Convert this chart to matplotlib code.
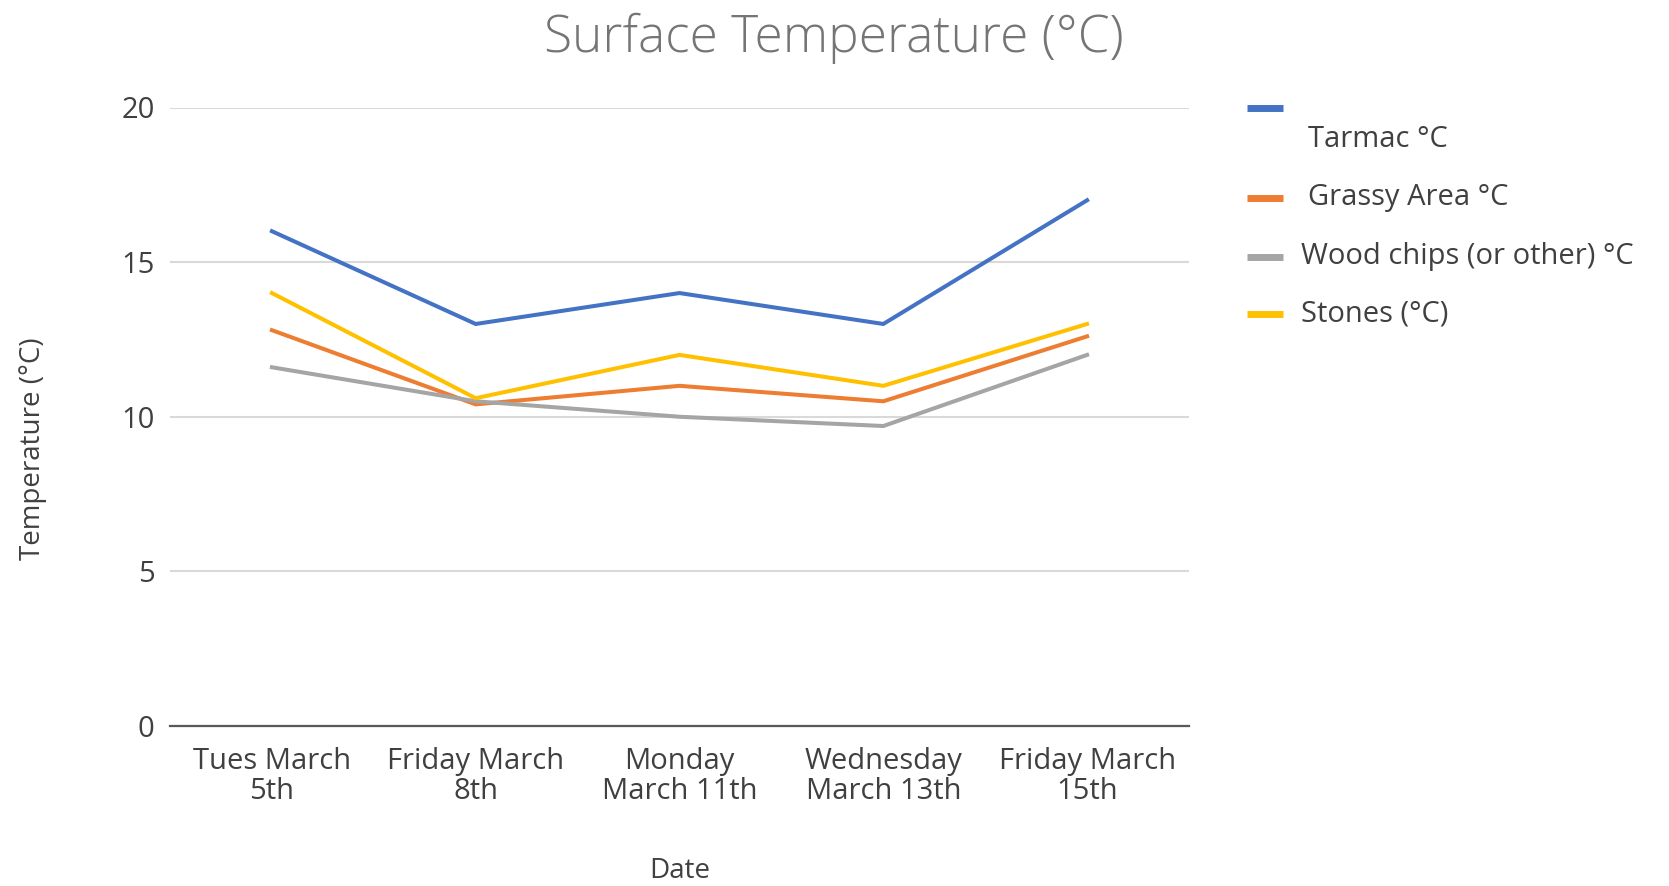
import matplotlib.pyplot as plt
from matplotlib.lines import Line2D

plt.rcParams['font.family'] = ['Open Sans', 'DejaVu Sans']

dates = ['Tues March\n5th', 'Friday March\n8th', 'Monday\nMarch 11th',
         'Wednesday\nMarch 13th', 'Friday March\n15th']
tarmac = [16, 13, 14, 13, 17]
grassy = [12.8, 10.4, 11, 10.5, 12.6]
wood = [11.6, 10.5, 10.0, 9.7, 12.0]
stones = [14, 10.6, 12, 11, 13]

series_labels = [' Tarmac °C', ' Grassy Area °C', 'Wood chips (or other) °C', 'Stones (°C)']
colors = ['#4472C4', '#ED7D31', '#A5A5A5', '#FFC000']

W, H = 1669, 886
fig = plt.figure(figsize=(W / 100, H / 100), dpi=100)
ax = fig.add_axes([170 / W, 1 - 726 / H, 1019 / W, (726 - 107.5) / H])

x = list(range(len(dates)))
for vals, c in zip([tarmac, grassy, wood, stones], colors):
    ax.plot(x, vals, color=c, linewidth=2.9, solid_joinstyle='miter', zorder=3)

ax.set_xlim(-0.5, len(dates) - 0.5)
ax.set_ylim(0, 20)
ax.set_yticks([0, 5, 10, 15, 20])
ax.set_xticks(x)
ax.set_xticklabels(dates, fontsize=21, color='#404040', linespacing=1.05)
ax.tick_params(axis='y', labelsize=21, labelcolor='#404040', length=0, pad=11)
ax.tick_params(axis='x', length=0, pad=15)
ax.grid(axis='y', color='#D9D9D9', linewidth=1.5)
ax.set_axisbelow(True)
for s in ['top', 'right', 'left']:
    ax.spines[s].set_visible(False)
ax.spines['bottom'].set_color('#595959')
ax.spines['bottom'].set_linewidth(1.6)

ax.set_xlabel('Date', fontsize=20, color='#404040')
ax.xaxis.set_label_coords(0.5, -(871 - 726) / (726 - 107.5))
ax.xaxis.label.set_va('center')
ax.set_ylabel('Temperature (°C)', fontsize=20, color='#404040')
ax.yaxis.set_label_coords(-(170 - 33) / 1019, 0.449)
ax.yaxis.label.set_va('center')

fig.text(834 / W, 1 - 38 / H, 'Surface Temperature (°C)', fontsize=37,
         color='#757575', ha='center', va='center', fontweight='light')

# legend, built by hand: the Tarmac text sits a line below its swatch
handle_y = [107.5, 198, 256.5, 314]
text_y = [139.5, 198, 256.5, 314]
text_x = [1308, 1308, 1301, 1301]
for lab, c, hy, ty, tx in zip(series_labels, colors, handle_y, text_y, text_x):
    fig.add_artist(Line2D([1247 / W, 1283 / W], [1 - hy / H, 1 - hy / H],
                          color=c, linewidth=5, solid_capstyle='butt'))
    fig.text(tx / W, 1 - ty / H, lab.strip(), fontsize=21, color='#404040',
             ha='left', va='center')

fig.savefig('out.png', dpi=100)
